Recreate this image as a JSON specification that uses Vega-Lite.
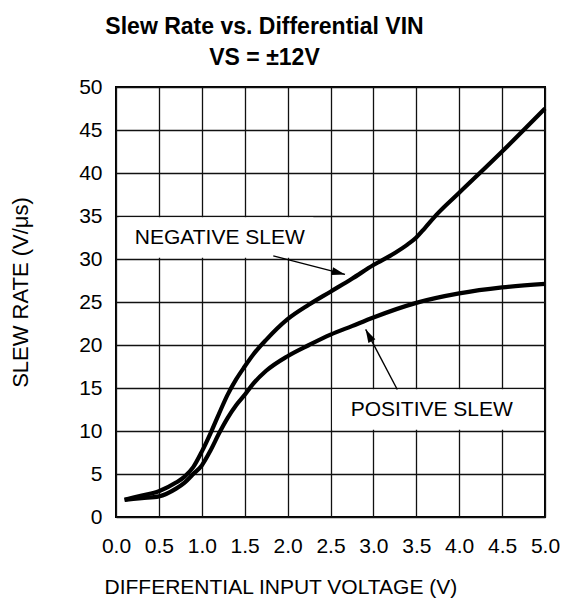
{
  "$schema": "https://vega.github.io/schema/vega-lite/v6.json",
  "width": 429,
  "height": 430,
  "autosize": {"type": "none"},
  "padding": {"left": 116, "top": 87, "right": 18, "bottom": 86},
  "background": "white",
  "title": {
    "text": ["Slew Rate vs. Differential VIN", "VS = ±12V"],
    "font": "Liberation Sans",
    "fontWeight": "bold",
    "fontSize": 23,
    "lineHeight": 31,
    "color": "black",
    "anchor": "middle",
    "dx": -66,
    "offset": 6
  },
  "config": {
    "view": {"stroke": "black", "strokeWidth": 2},
    "axis": {
      "domain": false,
      "ticks": false,
      "tickSize": 0,
      "grid": true,
      "gridColor": "#111111",
      "gridWidth": 1.3,
      "gridOpacity": 1,
      "labelFont": "Liberation Sans",
      "labelFontSize": 21,
      "labelColor": "black",
      "titleFont": "Liberation Sans",
      "titleFontWeight": "normal",
      "titleFontSize": 21,
      "titleColor": "black"
    }
  },
  "datasets": {
    "curves": [
      {"v": 0.1, "sr": 2.0, "series": "negative"},
      {"v": 0.3, "sr": 2.5, "series": "negative"},
      {"v": 0.5, "sr": 3.0, "series": "negative"},
      {"v": 0.7, "sr": 4.0, "series": "negative"},
      {"v": 0.8, "sr": 4.7, "series": "negative"},
      {"v": 0.9, "sr": 5.8, "series": "negative"},
      {"v": 1.0, "sr": 7.6, "series": "negative"},
      {"v": 1.1, "sr": 9.7, "series": "negative"},
      {"v": 1.2, "sr": 12.0, "series": "negative"},
      {"v": 1.3, "sr": 14.2, "series": "negative"},
      {"v": 1.4, "sr": 16.0, "series": "negative"},
      {"v": 1.5, "sr": 17.5, "series": "negative"},
      {"v": 1.6, "sr": 18.9, "series": "negative"},
      {"v": 1.75, "sr": 20.6, "series": "negative"},
      {"v": 2.0, "sr": 23.0, "series": "negative"},
      {"v": 2.25, "sr": 24.7, "series": "negative"},
      {"v": 2.5, "sr": 26.2, "series": "negative"},
      {"v": 2.75, "sr": 27.7, "series": "negative"},
      {"v": 3.0, "sr": 29.3, "series": "negative"},
      {"v": 3.25, "sr": 30.7, "series": "negative"},
      {"v": 3.4, "sr": 31.7, "series": "negative"},
      {"v": 3.5, "sr": 32.5, "series": "negative"},
      {"v": 3.6, "sr": 33.6, "series": "negative"},
      {"v": 3.75, "sr": 35.3, "series": "negative"},
      {"v": 4.0, "sr": 37.7, "series": "negative"},
      {"v": 4.5, "sr": 42.5, "series": "negative"},
      {"v": 5.0, "sr": 47.5, "series": "negative"},
      {"v": 0.1, "sr": 2.0, "series": "positive"},
      {"v": 0.3, "sr": 2.2, "series": "positive"},
      {"v": 0.5, "sr": 2.4, "series": "positive"},
      {"v": 0.7, "sr": 3.3, "series": "positive"},
      {"v": 0.8, "sr": 4.0, "series": "positive"},
      {"v": 0.9, "sr": 5.0, "series": "positive"},
      {"v": 1.0, "sr": 6.0, "series": "positive"},
      {"v": 1.1, "sr": 7.7, "series": "positive"},
      {"v": 1.2, "sr": 9.7, "series": "positive"},
      {"v": 1.3, "sr": 11.5, "series": "positive"},
      {"v": 1.4, "sr": 13.0, "series": "positive"},
      {"v": 1.5, "sr": 14.2, "series": "positive"},
      {"v": 1.6, "sr": 15.5, "series": "positive"},
      {"v": 1.75, "sr": 17.0, "series": "positive"},
      {"v": 2.0, "sr": 18.7, "series": "positive"},
      {"v": 2.25, "sr": 20.0, "series": "positive"},
      {"v": 2.5, "sr": 21.2, "series": "positive"},
      {"v": 2.75, "sr": 22.2, "series": "positive"},
      {"v": 3.0, "sr": 23.2, "series": "positive"},
      {"v": 3.5, "sr": 24.9, "series": "positive"},
      {"v": 4.0, "sr": 26.0, "series": "positive"},
      {"v": 4.5, "sr": 26.7, "series": "positive"},
      {"v": 5.0, "sr": 27.1, "series": "positive"}
    ],
    "boxes": [
      {"x0": 0.03, "x1": 2.3, "y0": 30.15, "y1": 34.85},
      {"x0": 2.52, "x1": 4.97, "y0": 10.15, "y1": 14.85}
    ],
    "arrows": [
      {"label": "NEGATIVE SLEW", "x0": 1.833, "y0": 30.37, "x1": 2.669, "y1": 28.21},
      {"label": "POSITIVE SLEW", "x0": 3.278, "y0": 14.83, "x1": 2.91, "y1": 21.81}
    ],
    "labels": [
      {"label": "NEGATIVE SLEW", "x": 1.21, "y": 32.5},
      {"label": "POSITIVE SLEW", "x": 3.68, "y": 12.5}
    ]
  },
  "layer": [
    {
      "data": {"name": "boxes"},
      "mark": {"type": "rect", "fill": "white", "stroke": null},
      "encoding": {
        "x": {
          "field": "x0", "type": "quantitative",
          "scale": {"domain": [0, 5], "nice": false, "zero": false},
          "axis": {
            "values": [0, 0.5, 1, 1.5, 2, 2.5, 3, 3.5, 4, 4.5, 5],
            "format": ".1f",
            "labelPadding": 18,
            "labelFlush": false,
            "labelOverlap": false,
            "title": "DIFFERENTIAL INPUT VOLTAGE (V)",
            "titlePadding": 20,
            "titleAnchor": "start",
            "titleX": -12
          }
        },
        "x2": {"field": "x1"},
        "y": {
          "field": "y0", "type": "quantitative",
          "scale": {"domain": [0, 50], "nice": false},
          "axis": {
            "values": [0, 5, 10, 15, 20, 25, 30, 35, 40, 45, 50],
            "labelPadding": 14,
            "labelFlush": false,
            "labelOverlap": false,
            "title": "SLEW RATE (V/μs)",
            "titleFontSize": 22,
            "titleAnchor": "middle",
            "titleY": 205,
            "titleX": -84
          }
        },
        "y2": {"field": "y1"}
      }
    },
    {
      "data": {"name": "curves"},
      "mark": {"type": "line", "color": "black", "strokeWidth": 4.2, "interpolate": "monotone", "strokeCap": "butt"},
      "encoding": {
        "x": {"field": "v", "type": "quantitative"},
        "y": {"field": "sr", "type": "quantitative"},
        "detail": {"field": "series"}
      }
    },
    {
      "data": {"name": "arrows"},
      "mark": {"type": "rule", "color": "black", "strokeWidth": 1.4},
      "encoding": {
        "x": {"field": "x0", "type": "quantitative"},
        "y": {"field": "y0", "type": "quantitative"},
        "x2": {"field": "x1"},
        "y2": {"field": "y1"}
      }
    },
    {
      "data": {"name": "arrows"},
      "transform": [{"filter": "datum.label === 'NEGATIVE SLEW'"}],
      "mark": {"type": "point", "shape": "M0,0L-0.3,1L0.3,1Z", "filled": true, "color": "black", "opacity": 1, "size": 700, "angle": 104},
      "encoding": {
        "x": {"field": "x1", "type": "quantitative"},
        "y": {"field": "y1", "type": "quantitative"}
      }
    },
    {
      "data": {"name": "arrows"},
      "transform": [{"filter": "datum.label === 'POSITIVE SLEW'"}],
      "mark": {"type": "point", "shape": "M0,0L-0.3,1L0.3,1Z", "filled": true, "color": "black", "opacity": 1, "size": 700, "angle": 332},
      "encoding": {
        "x": {"field": "x1", "type": "quantitative"},
        "y": {"field": "y1", "type": "quantitative"}
      }
    },
    {
      "data": {"name": "labels"},
      "mark": {"type": "text", "font": "Liberation Sans", "fontSize": 21, "color": "black", "align": "center", "baseline": "middle"},
      "encoding": {
        "x": {"field": "x", "type": "quantitative"},
        "y": {"field": "y", "type": "quantitative"},
        "text": {"field": "label"}
      }
    }
  ]
}
